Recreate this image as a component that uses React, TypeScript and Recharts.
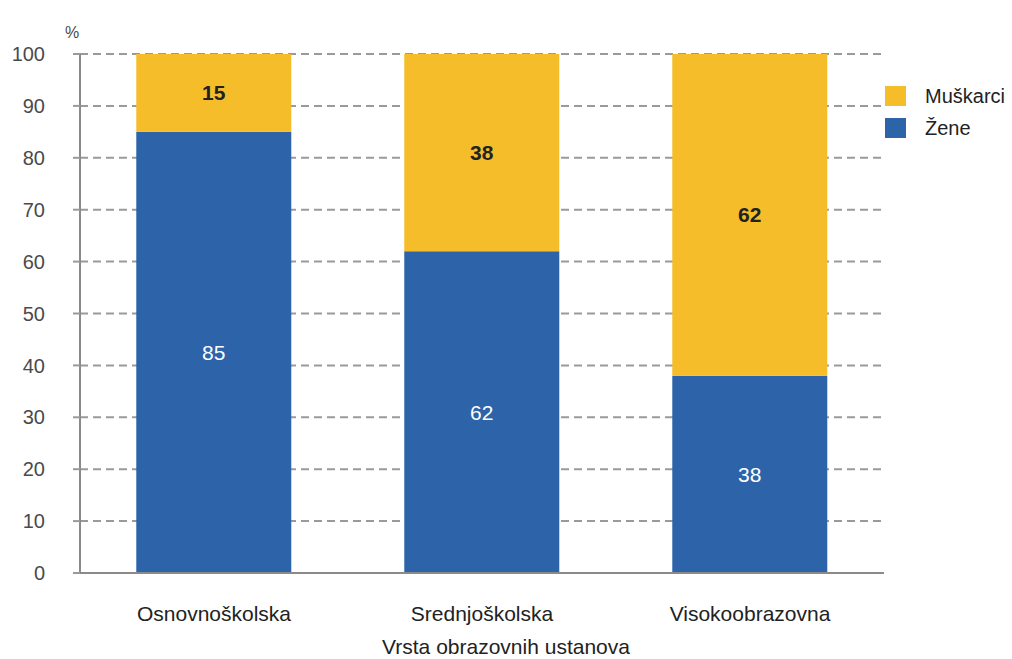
import { BarChart, Bar, XAxis, YAxis, CartesianGrid, Legend, LabelList } from 'recharts';

const CATEGORIES = ['Osnovnoškolska', 'Srednjoškolska', 'Visokoobrazovna'];
const ZENE = [85, 62, 38];
const MUSKARCI = [15, 38, 62];
const Y_TICKS = [0, 10, 20, 30, 40, 50, 60, 70, 80, 90, 100];

const YELLOW = '#f5bd2a';
const BLUE = '#2d63a9';
const GRID = '#9a9a9a';

const data = CATEGORIES.map((name, i) => ({ name, zene: ZENE[i], muskarci: MUSKARCI[i] }));

const legendItems = [
  { label: 'Muškarci', color: YELLOW },
  { label: 'Žene', color: BLUE },
];

function LegendBox() {
  return (
    <div>
      {legendItems.map((it) => (
        <div key={it.label} style={{ display: 'flex', alignItems: 'center', height: 32 }}>
          <span style={{ width: 21, height: 20, background: it.color, display: 'inline-block', marginRight: 19 }} />
          <span style={{ fontSize: 20, color: '#222' }}>{it.label}</span>
        </div>
      ))}
    </div>
  );
}

export default function App() {
  return (
    <div
      style={{
        position: 'absolute',
        left: 0,
        top: 0,
        width: 1012,
        height: 659,
        background: '#fff',
        fontFamily: '"Liberation Sans", Arial, sans-serif',
      }}
    >
      <BarChart
        width={1012}
        height={659}
        data={data}
        margin={{ top: 54, right: 128, bottom: 0, left: 30 }}
        barCategoryGap="21%"
      >
        <CartesianGrid vertical={false} stroke={GRID} strokeDasharray="8 5" strokeWidth={2} />
        <XAxis
          dataKey="name"
          height={86}
          tickSize={0}
          tickMargin={33}
          axisLine={{ stroke: '#8a8a8a', strokeWidth: 2 }}
          tick={{ fill: '#222', fontSize: 21 }}
          label={{ value: 'Vrsta obrazovnih ustanova', position: 'insideBottom', offset: 5, dx: 24, fill: '#222', fontSize: 21 }}
        />
        <YAxis
          width={50}
          domain={[0, 100]}
          ticks={Y_TICKS}
          interval={0}
          tickSize={7}
          tickMargin={28}
          axisLine={{ stroke: '#8a8a8a', strokeWidth: 2 }}
          tickLine={{ stroke: GRID, strokeWidth: 2 }}
          tick={{ fill: '#4a4a4a', fontSize: 20 }}
          label={{ value: '%', position: 'top', offset: 16, dx: 17, fill: '#4a4a4a', fontSize: 16 }}
        />
        <Legend
          layout="vertical"
          align="center"
          verticalAlign="middle"
          content={<LegendBox />}
          wrapperStyle={{ left: 885, top: 80, width: 127 }}
        />
        <Bar dataKey="zene" name="Žene" stackId="a" fill={BLUE} isAnimationActive={false}>
          <LabelList dataKey="zene" position="center" fill="#fff" fontSize={21} />
        </Bar>
        <Bar dataKey="muskarci" name="Muškarci" stackId="a" fill={YELLOW} isAnimationActive={false}>
          <LabelList dataKey="muskarci" position="center" fill="#222" fontSize={21} fontWeight="bold" />
        </Bar>
      </BarChart>
    </div>
  );
}
